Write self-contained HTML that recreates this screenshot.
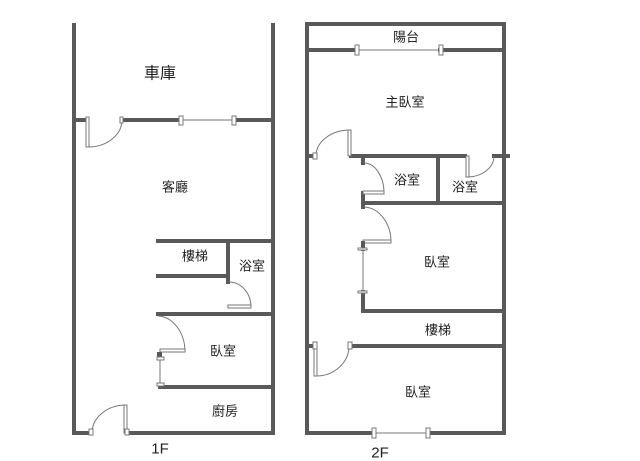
<!DOCTYPE html>
<html><head><meta charset="utf-8"><style>
html,body{margin:0;padding:0;background:#fff}
svg{display:block}
text{font-family:"Liberation Sans","Noto Sans CJK TC",sans-serif;fill:#222;text-anchor:middle;dominant-baseline:central}
.w{stroke:#595959;stroke-width:4;fill:none;stroke-linecap:square}
.d{stroke:#777;stroke-width:1;fill:none}
.leaf{stroke:#777;stroke-width:1;fill:#fff}
</style></head><body>
<svg width="640" height="461" viewBox="0 0 640 461">
<!-- 1F -->
<path class="w" d="M74 25 V433 H91 M127 433 H273 V25"/>
<path class="w" d="M74 120 H86 M122 120 H181 M234 120 H273"/>
<line class="d" x1="181" y1="120" x2="234" y2="120"/>
<rect class="leaf" x="179" y="116" width="4" height="9"/>
<rect class="leaf" x="232" y="116" width="4" height="9"/>
<rect class="leaf" x="86" y="117" width="3" height="30"/>
<path class="d" d="M88 147 A34 27 0 0 0 122 120"/>
<rect class="leaf" x="120" y="117" width="3" height="6"/>
<path class="w" d="M158 241 H273 M158 276 H228 M228 241 V282"/>
<path class="d" d="M229 282 A22 25 0 0 1 251 307"/>
<rect class="leaf" x="228" y="305" width="23" height="3"/>
<path class="w" d="M158 314 H273 M160 387 H273"/>
<path class="d" d="M158 316 A28 36 0 0 1 185 351"/>
<rect class="leaf" x="160" y="349" width="25" height="3"/>
<line class="d" x1="160" y1="352" x2="160" y2="385"/>
<rect x="157" y="352" width="5" height="6" fill="#595959"/>
<rect class="leaf" x="157" y="357" width="7" height="3"/>
<rect class="leaf" x="157" y="383" width="7" height="3"/>
<rect class="leaf" x="124" y="405" width="3" height="28"/>
<path class="d" d="M92 433 A34 28 0 0 1 125 405"/>
<rect class="leaf" x="89" y="429" width="4" height="6"/>
<rect class="leaf" x="125" y="429" width="4" height="6"/>
<text x="160" y="74" style="font-size:16px">車庫</text>
<text x="175" y="187" style="font-size:13px">客廳</text>
<text x="195" y="256" style="font-size:13px">樓梯</text>
<text x="252" y="266" style="font-size:13px">浴室</text>
<text x="223" y="351" style="font-size:13px">臥室</text>
<text x="225" y="411" style="font-size:13px">廚房</text>
<text x="160" y="449" style="font-size:15px">1F</text>
<!-- 2F -->
<path class="w" d="M307 24 H504 V433 H307 Z"/>
<path class="w" d="M307 50 H357 M440 50 H504"/>
<line class="d" x1="357" y1="50" x2="440" y2="50"/>
<rect class="leaf" x="355" y="45" width="4" height="10"/>
<rect class="leaf" x="439" y="45" width="4" height="10"/>
<path class="w" d="M307 156 H313 M351 156 H465 M494 156 H508"/>
<rect class="leaf" x="348" y="130" width="3" height="26"/>
<path class="d" d="M316 156 A34 26 0 0 1 349 130"/>
<rect class="leaf" x="313" y="153" width="4" height="6"/>
<path class="w" d="M363 156 V163 M363 193 V207 M363 203 H504 M438 156 V203"/>
<path class="d" d="M364 163 A20 30 0 0 1 384 193"/>
<rect class="leaf" x="363" y="191" width="21" height="3"/>
<rect class="leaf" x="466" y="156" width="3" height="21"/>
<path class="d" d="M468 177 A27 21 0 0 0 494 156"/>
<path class="d" d="M364 207 A28 35 0 0 1 391 242"/>
<rect class="leaf" x="363" y="240" width="28" height="3"/>
<path class="w" d="M363 243 V249 M363 292 V311 H504"/>
<line class="d" x1="363" y1="249" x2="363" y2="292"/>
<rect class="leaf" x="358" y="248" width="9" height="2"/>
<rect class="leaf" x="358" y="291" width="9" height="2"/>
<path class="w" d="M307 346 H313 M351 346 H504"/>
<rect class="leaf" x="314" y="346" width="3" height="30"/>
<path class="d" d="M316 376 A33 30 0 0 0 349 346"/>
<rect class="leaf" x="348" y="342" width="4" height="7"/>
<rect class="leaf" x="313" y="342" width="4" height="7"/>
<line x1="374" y1="433" x2="427" y2="433" stroke="#fff" stroke-width="5"/>
<line class="d" x1="374" y1="433" x2="427" y2="433"/>
<rect class="leaf" x="372" y="428" width="4" height="10"/>
<rect class="leaf" x="426" y="428" width="4" height="10"/>
<text x="406" y="37" style="font-size:13px">陽台</text>
<text x="405" y="102" style="font-size:13px">主臥室</text>
<text x="407" y="180" style="font-size:13px">浴室</text>
<text x="465" y="187" style="font-size:13px">浴室</text>
<text x="437" y="262" style="font-size:13px">臥室</text>
<text x="438" y="330" style="font-size:13px">樓梯</text>
<text x="418" y="392" style="font-size:13px">臥室</text>
<text x="380" y="453" style="font-size:15px">2F</text>
</svg>
</body></html>
